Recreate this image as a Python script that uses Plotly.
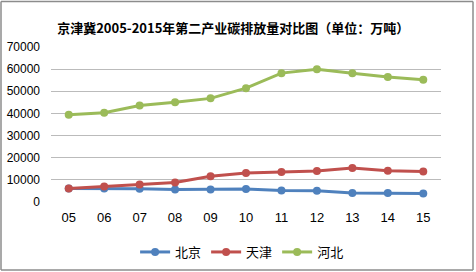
import plotly.graph_objects as go

years = ["05", "06", "07", "08", "09", "10", "11", "12", "13", "14", "15"]
beijing = [6050, 6100, 6000, 5600, 5600, 5850, 5150, 5100, 4100, 4050, 3800]
tianjin = [6050, 7050, 7950, 8850, 11600, 13100, 13500, 14000, 15300, 14100, 13800]
hebei = [39400, 40300, 43600, 45000, 46800, 51400, 58200, 60000, 58100, 56400, 55200]
y_ticks = [0, 10000, 20000, 30000, 40000, 50000, 60000, 70000]

names = ["北京", "天津", "河北"]
colors = ["#4F81BD", "#C0504D", "#9BBB59"]
series = [beijing, tianjin, hebei]

fig = go.Figure()
for n, c, s in zip(names, colors, series):
    fig.add_trace(go.Scatter(
        x=list(range(len(years))), y=s, name=n, mode="lines+markers",
        line=dict(color=c, width=3), marker=dict(color=c, size=8),
    ))

PW, PH, L, T = 390, 155, 51, 47

fig.update_layout(
    width=476, height=272,
    paper_bgcolor="white", plot_bgcolor="white",
    margin=dict(l=L, r=476 - L - PW, t=T, b=272 - T - PH, autoexpand=False),
    font=dict(family="Liberation Sans, Noto Sans CJK SC", size=12, color="#000000"),
    title=dict(text="<b>京津冀2005-2015年第二产业碳排放量对比图（单位：万吨）</b>",
               x=0.49, xanchor="center", y=1 - 28 / 272, yanchor="middle",
               font=dict(family="Noto Sans CJK SC", size=13, color="#000000")),
    showlegend=True,
    legend=dict(orientation="h", x=0.49, xanchor="center", yref="container",
                y=1 - 252 / 272, yanchor="middle",
                font=dict(family="Noto Sans CJK SC", size=13), itemwidth=30),
    xaxis=dict(tickmode="array", tickvals=list(range(len(years))), ticktext=years,
               range=[-0.5, 10.5], showgrid=False, zeroline=False, showline=False,
               ticks="", ticklabelstandoff=6, tickfont=dict(size=13)),
    yaxis=dict(range=[0, 70000], tickvals=y_ticks, ticktext=[str(v) for v in y_ticks],
               showgrid=True, gridcolor="#BBBBBB", gridwidth=1, zeroline=False,
               showline=False, ticks="", ticklabelstandoff=10, tickfont=dict(size=12)),
)
x0, x1 = (1 - L) / PW, (473 - L) / PW
y0, y1 = 1 - (270 - T) / PH, 1 + (T - 1.5) / PH
for a, b, c, d in [(x0, y0, x1, y0), (x0, y1, x1, y1), (x0, y0, x0, y1), (x1, y0, x1, y1)]:
    fig.add_shape(type="line", xref="paper", yref="paper", x0=a, y0=b, x1=c, y1=d,
                  line=dict(color="#8C8C8C", width=1.5), layer="above")

fig.write_html("out.html", config={"displayModeBar": False},
               post_script="document.body.style.margin='0';document.body.style.overflow='hidden';")
